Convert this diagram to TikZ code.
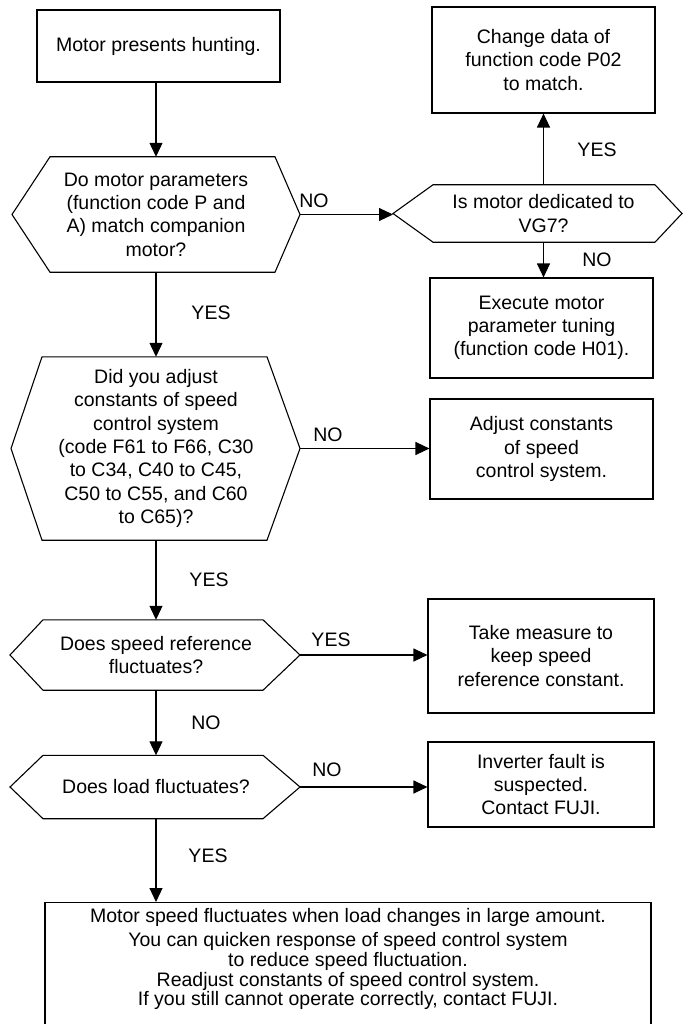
\documentclass[tikz,border=0pt]{standalone}
\usepackage{fontspec}
\setmainfont{Liberation Sans}
\usetikzlibrary{arrows.meta,calc}
\newcommand\hexshape[5]{%
  \draw[hexline] ($(#1.center)+(#2,0)$) -- ($(#1.north)+(#3,0)$) -- ($(#1.north)+(#4,0)$) -- ($(#1.center)+(#5,0)$) -- ($(#1.south)+(#4,0)$) -- ($(#1.south)+(#3,0)$) -- cycle;
  \coordinate (#1-l) at ($(#1.center)+(#2,0)$);
  \coordinate (#1-r) at ($(#1.center)+(#5,0)$);}
\begin{document}
\begin{tikzpicture}[x=1pt,y=-1pt,
  every node/.append style={font=\fontsize{19.5}{23.3}\selectfont},
  box/.style={draw, line width=1.1pt, inner sep=0pt, align=center},
  startbox/.style={box, line width=2.6pt},
  hexnode/.style={inner sep=0pt, align=center},
  hexline/.style={line width=1.1pt, line join=miter},
  lbl/.style={inner sep=0pt},
  arr/.style={line width=1.1pt, -{Triangle[length=14pt,width=13pt]}},
]
\useasboundingbox (0,0) rectangle (682,1024);

\node[startbox, minimum width=243pt, minimum height=72pt] (start) at (158.5,46) {Motor presents hunting.};
\node[box, minimum width=223pt, minimum height=106pt] (change) at (543.5,60) {Change data of\\function code P02\\to match.};
\node[hexnode, minimum height=115pt] (hex1) at (156,214.5) {Do motor parameters\\(function code P and\\A) match companion\\motor?};
\node[hexnode, minimum height=57pt] (hex2) at (543.5,213.5) {Is motor dedicated to\\VG7?};
\node[box, minimum width=223pt, minimum height=100pt] (exec) at (541.5,328) {Execute motor\\parameter tuning\\(function code H01).};
\node[hexnode, minimum height=183pt] (hex3) at (156,448.5) {Did you adjust\\constants of speed\\control system\\(code F61 to F66, C30\\to C34, C40 to C45,\\C50 to C55, and C60\\to C65)?};
\node[box, minimum width=223pt, minimum height=100pt] (adj) at (541.5,449) {Adjust constants\\of speed\\control system.};
\node[hexnode, minimum height=70pt] (hex4) at (156,655) {Does speed reference\\fluctuates?};
\node[box, minimum width=226pt, minimum height=114pt] (take) at (541,656) {Take measure to\\keep speed\\reference constant.};
\node[hexnode, minimum height=63pt] (hex5) at (156,787) {Does load fluctuates?};
\node[box, minimum width=226pt, minimum height=85pt] (inv) at (541,784.5) {Inverter fault is\\suspected.\\Contact FUJI.};
\node[box, anchor=north, minimum width=606pt, inner ysep=6pt, text depth=130pt, font=\fontsize{19.5}{19.8}\selectfont] (final) at (348,902) {Motor speed fluctuates when load changes in large amount.\\[4pt]You can quicken response of speed control system\\to reduce speed fluctuation.\\Readjust constants of speed control system.\\If you still cannot operate correctly, contact FUJI.};

\hexshape{hex1}{-144}{-106}{119}{144}
\hexshape{hex2}{-150.5}{-110.5}{111.5}{138.5}
\hexshape{hex3}{-145}{-114}{111}{144}
\hexshape{hex4}{-146}{-113}{107}{144}
\hexshape{hex5}{-146}{-113}{107}{144}

\draw[arr] (start.south -| hex1.north) -- (hex1.north);
\draw[arr] (hex1-r) -- (hex1-r -| hex2-l);
\draw[arr] (hex2.north) -- (change.south);
\draw[arr] (hex2.south) -- (hex2.south |- exec.north);
\draw[arr] (hex1.south) -- (hex3.north);
\draw[arr] (hex3-r) -- (hex3-r -| adj.west);
\draw[arr] (hex3.south) -- (hex4.north);
\draw[arr] (hex4-r) -- (hex4-r -| take.west);
\draw[arr] (hex4.south) -- (hex5.north);
\draw[arr] (hex5-r) -- (hex5-r -| inv.west);
\draw[arr] (hex5.south) -- (hex5.south |- final.north);

\node[lbl] (l1) at (314,201) {NO};
\node[lbl] (l2) at (597,150) {YES};
\node[lbl] (l3) at (597,260) {NO};
\node[lbl] (l4) at (211,313) {YES};
\node[lbl] (l5) at (328,435) {NO};
\node[lbl] (l6) at (209,580) {YES};
\node[lbl] (l7) at (331,640) {YES};
\node[lbl] (l8) at (206,723) {NO};
\node[lbl] (l9) at (327,770) {NO};
\node[lbl] (l10) at (208,856) {YES};
\end{tikzpicture}
\end{document}
